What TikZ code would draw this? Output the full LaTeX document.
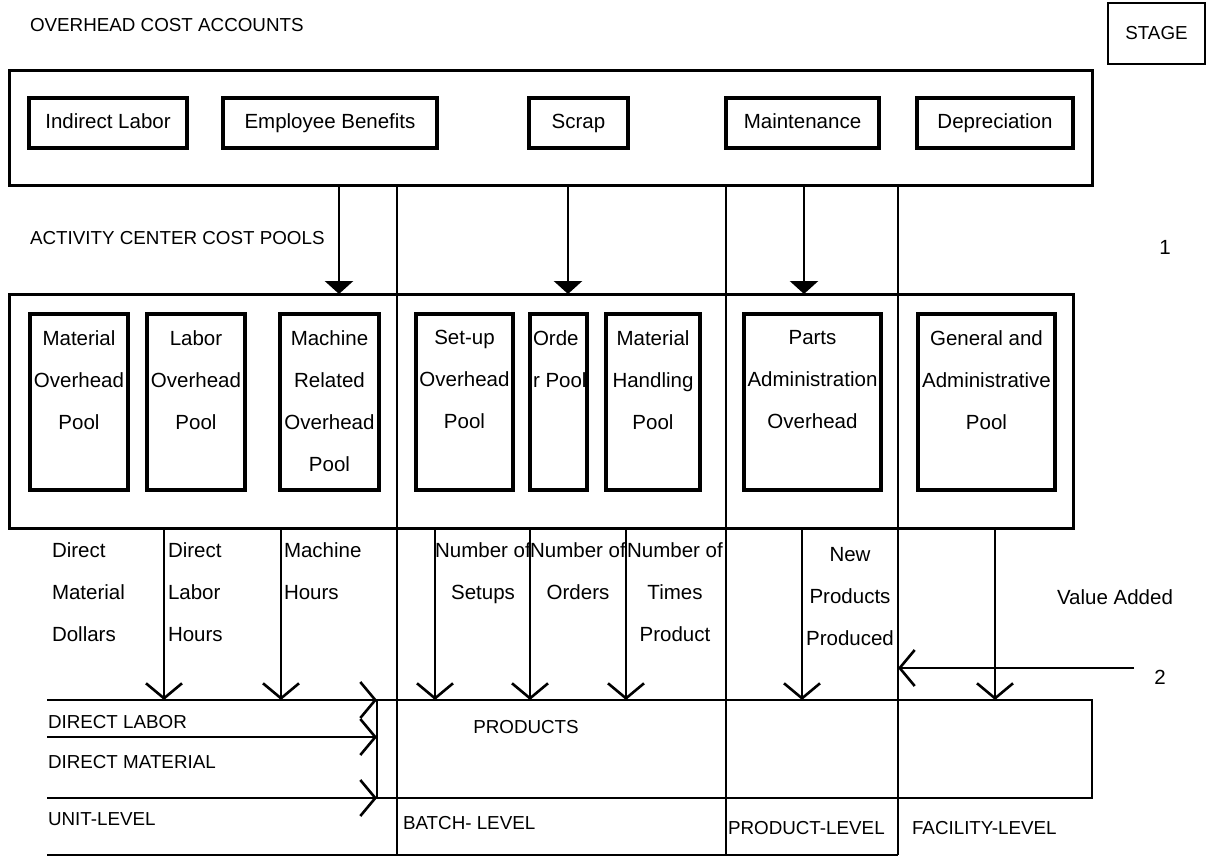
\documentclass[tikz,border=0pt]{standalone}
\usepackage{fontspec}
\setmainfont{Liberation Sans}
\usetikzlibrary{arrows.meta}
\newcommand\mixfont{\fontsize{20.5}{42}\selectfont}
\newcommand\capsfont{\fontsize{18.8}{24}\selectfont}
\begin{document}
\begin{tikzpicture}[x=1pt,y=-1pt,
  every node/.style={inner sep=0pt, outer sep=0pt},
  frame/.style={draw, line width=3pt},
  acct/.style={draw, line width=3.2pt, minimum height=50pt, font=\mixfont, text height=15pt, text depth=4pt},
  pool/.style={draw, line width=3.4pt, minimum height=176pt},
  pooltext/.style={anchor=north, align=center, font=\mixfont},
  caps/.style={font=\capsfont},
  mix/.style={font=\mixfont},
  wire/.style={line width=2.8pt},
  feed/.style={wire, -{Triangle[length=13pt,width=28pt]}},
  driver/.style={wire, -{Straight Barb[length=15pt,width=36pt,line width=2.6pt]}},
]
\useasboundingbox (0,0) rectangle (1215,864);

% column and row positions
\coordinate (cEB) at (339,0);
\coordinate (cSC) at (568,0);
\coordinate (cMT) at (804,0);
\coordinate (cB) at (397,0);
\coordinate (cP) at (726,0);
\coordinate (cF) at (898,0);
\coordinate (cDL) at (164,0);
\coordinate (cMH) at (281,0);
\coordinate (cSU) at (435,0);
\coordinate (cOR) at (530,0);
\coordinate (cTP) at (626,0);
\coordinate (cNP) at (802,0);
\coordinate (cVA) at (995,0);

% headings
\node[caps, anchor=west] (hAcc) at (30,25) {OVERHEAD COST ACCOUNTS};
\node[caps, anchor=west] (hPool) at (30,238) {ACTIVITY CENTER COST POOLS};
\node[caps, draw, line width=2.8pt, minimum width=97pt, minimum height=61pt] (stage) at (1156.5,33.5) {STAGE};
\node[mix] (one) at (1165,247) {1};

% overhead cost accounts
\node[frame, minimum width=1083pt, minimum height=114pt] (accounts) at (550.5,128) {};
\node[acct, minimum width=158pt] (il) at (108,123) {Indirect Labor};
\node[acct, minimum width=214pt] (eb) at (330,123) {Employee Benefits};
\node[acct, minimum width=99pt] (sc) at (578.5,123) {Scrap};
\node[acct, minimum width=153pt] (mt) at (802.5,123) {Maintenance};
\node[acct, minimum width=156pt] (dp) at (995,123) {Depreciation};

% activity center cost pools
\node[frame, minimum width=1064pt, minimum height=234pt] (centers) at (541,411) {};
\node[pool, minimum width=98pt] (mop) at (79,402) {};
\node[pool, minimum width=98pt] (lop) at (196,402) {};
\node[pool, minimum width=99pt] (mrp) at (329.5,402) {};
\node[pool, minimum width=97pt] (sop) at (464.5,402) {};
\node[pool, minimum width=57pt] (orp) at (558.5,402) {};
\node[pool, minimum width=94pt] (mhp) at (653,402) {};
\node[pool, minimum width=137pt] (pao) at (812.5,402) {};
\node[pool, minimum width=137pt] (gap) at (986.5,402) {};

\node[pooltext] (mopT) at ([yshift=-16.5pt]mop.north) {Material\\Overhead\\Pool};
\node[pooltext] (lopT) at ([yshift=-16.5pt]lop.north) {Labor\\Overhead\\Pool};
\node[pooltext] (mrpT) at ([yshift=-16.5pt]mrp.north) {Machine\\Related\\Overhead\\Pool};
\node[pooltext] (sopT) at ([yshift=-16.5pt]sop.north) {Set-up\\Overhead\\Pool};
\node[pooltext, anchor=north west, align=left] (orpT) at ([xshift=3pt,yshift=-16.5pt]orp.north west) {Orde\\r Pool};
\node[pooltext] (mhpT) at ([yshift=-16.5pt]mhp.north) {Material\\Handling\\Pool};
\node[pooltext] (paoT) at ([yshift=-16.5pt]pao.north) {Parts\\Administration\\Overhead};
\node[pooltext] (gapT) at ([yshift=-16.5pt]gap.north) {General and\\Administrative\\Pool};

% products grid
\coordinate (g1) at (47,700);
\coordinate (g2) at (1092,700);
\coordinate (g3) at (1092,798);
\coordinate (g4) at (47,798);
\coordinate (g5) at (47,737);
\coordinate (g6) at (377,737);
\coordinate (g7) at (377,700);
\coordinate (g8) at (377,798);
\coordinate (g9) at (47,855);
\coordinate (g10) at (898,855);

\draw[wire] (g1) -- (g2) -- (g3) -- (g4);
\draw[wire] (g9) -- (g10);
\draw[wire] (g7) -- (g8);
\draw[driver] (g1) -- (g7);
\draw[driver] (g5) -- (g6);
\draw[driver] (g4) -- (g8);

% level dividers
\draw[wire] (accounts.south -| cB) -- (cB |- g9);
\draw[wire] (accounts.south -| cP) -- (cP |- g9);
\draw[wire] (accounts.south -| cF) -- (cF |- g9);

% accounts to pools
\draw[feed] (accounts.south -| cEB) -- (centers.north -| cEB);
\draw[feed] (accounts.south -| cSC) -- (centers.north -| cSC);
\draw[feed] (accounts.south -| cMT) -- (centers.north -| cMT);

% cost drivers to products
\draw[driver] (centers.south -| cDL) -- (cDL |- g1);
\draw[driver] (centers.south -| cMH) -- (cMH |- g1);
\draw[driver] (centers.south -| cSU) -- (cSU |- g1);
\draw[driver] (centers.south -| cOR) -- (cOR |- g1);
\draw[driver] (centers.south -| cTP) -- (cTP |- g1);
\draw[driver] (centers.south -| cNP) -- (cNP |- g1);
\draw[driver] (centers.south -| cVA) -- (cVA |- g1);

% stage 2 marker
\coordinate (two) at (1134,668);
\draw[driver] (two) -- (two -| cF);
\node[mix] (twoT) at (1160,677) {2};

% driver labels
\node[mix, anchor=north west, align=left] (dDM) at (52,542.5) {Direct\\Material\\Dollars};
\node[mix, anchor=north west, align=left] (dDL) at (168,542.5) {Direct\\Labor\\Hours};
\node[mix, anchor=north west, align=left] (dMH) at (284,542.5) {Machine\\Hours};
\node[mix, anchor=north, align=center] (dSU) at (483,542.5) {Number of\\Setups};
\node[mix, anchor=north, align=center] (dOR) at (578,542.5) {Number of\\Orders};
\node[mix, anchor=north, align=center] (dTP) at (675,542.5) {Number of\\Times\\Product};
\node[mix, anchor=north, align=center] (dNP) at (850,547) {New\\Products\\Produced};
\node[mix] (dVA) at (1115,597) {Value Added};

% product and level labels
\node[caps, anchor=west] (lDL) at (48,722) {DIRECT LABOR};
\node[caps, anchor=west] (lDM) at (48,762) {DIRECT MATERIAL};
\node[caps, anchor=west] (lUL) at (48,819) {UNIT-LEVEL};
\node[caps] (lPR) at (526,727) {PRODUCTS};
\node[caps, anchor=west] (lBL) at (403,823) {BATCH- LEVEL};
\node[caps, anchor=west] (lPL) at (728,828) {PRODUCT-LEVEL};
\node[caps, anchor=west] (lFL) at (912,828) {FACILITY-LEVEL};
\end{tikzpicture}
\end{document}
